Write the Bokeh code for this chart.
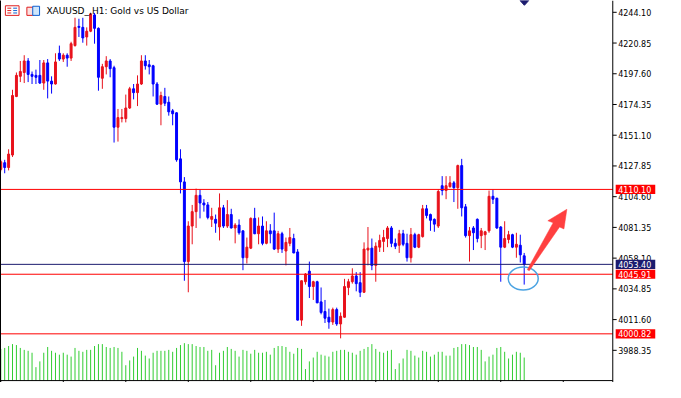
from bokeh.plotting import figure
from bokeh.models import Range1d, LinearAxis, FixedTicker, Label, ColumnDataSource
from bokeh.core.properties import value
from bokeh.embed import file_html
from bokeh.resources import INLINE

# ---------------- data (XAUUSD_, H1) ----------------
opens = [4125.22, 4130.30, 4126.67, 4136.11, 4180.41, 4195.66, 4198.56, 4207.28, 4197.11, 4196.39,
         4196.39, 4190.58, 4205.83, 4192.03, 4189.85, 4213.09, 4208.73, 4211.64, 4209.46, 4218.90,
         4233.42, 4232.70, 4225.43, 4229.79, 4242.14, 4231.97, 4194.21, 4202.92, 4207.28, 4202.20,
         4157.17, 4163.71, 4163.71, 4171.70, 4186.22, 4183.31, 4189.85, 4207.28, 4204.37, 4203.65,
         4189.85, 4174.60, 4180.41, 4176.05, 4169.52, 4168.06, 4133.21, 4115.78, 4055.50, 4082.37,
         4093.27, 4105.61, 4099.80, 4098.35, 4087.46, 4087.46, 4081.65, 4096.17, 4082.37, 4091.09,
         4080.92, 4083.10, 4078.74, 4058.41, 4065.67, 4088.18, 4076.56, 4082.37, 4069.30, 4078.74,
         4078.74, 4064.94, 4076.56, 4063.49, 4069.30, 4072.93, 4062.77, 4011.21, 4040.25, 4048.24,
         4036.62, 4040.25, 4025.00, 4017.74, 4013.38, 4009.75, 4019.19, 4008.30, 4013.38, 4035.90,
         4040.25, 4044.61, 4039.53, 4032.27, 4064.22, 4065.67, 4052.60, 4066.40, 4070.75, 4072.93,
         4080.92, 4069.30, 4067.85, 4076.56, 4069.30, 4058.41, 4075.84, 4066.40, 4074.38, 4095.44,
         4091.09, 4087.46, 4082.37, 4112.87, 4109.24, 4112.15, 4115.05, 4111.42, 4128.12, 4096.90,
         4075.11, 4080.92, 4087.46, 4075.11, 4075.84, 4078.74, 4104.89, 4103.43, 4081.65, 4066.40,
         4072.21, 4075.84, 4066.40, 4067.85, 4059.86]
highs = [4132.48, 4132.48, 4140.47, 4185.49, 4198.56, 4207.28, 4211.64, 4209.46, 4199.29, 4200.74,
         4208.01, 4208.01, 4208.73, 4195.66, 4213.09, 4218.90, 4213.09, 4213.09, 4221.80, 4239.96,
         4239.23, 4239.96, 4232.70, 4243.59, 4243.59, 4232.70, 4205.10, 4210.91, 4208.73, 4203.65,
         4170.97, 4170.97, 4181.86, 4187.67, 4189.85, 4196.39, 4211.64, 4211.64, 4208.01, 4204.37,
         4191.30, 4184.04, 4186.95, 4180.41, 4170.97, 4168.50, 4140.47, 4119.41, 4086.00, 4098.35,
         4110.69, 4109.97, 4102.71, 4100.53, 4096.17, 4091.09, 4107.06, 4098.35, 4101.98, 4095.44,
         4084.55, 4087.46, 4079.00, 4073.66, 4088.91, 4096.17, 4088.91, 4089.63, 4086.00, 4083.83,
         4092.54, 4078.74, 4078.02, 4073.66, 4080.92, 4076.56, 4064.94, 4041.20, 4046.80, 4055.50,
         4040.98, 4040.98, 4035.90, 4026.46, 4019.92, 4020.65, 4020.65, 4017.01, 4042.43, 4042.43,
         4050.42, 4047.52, 4047.52, 4070.03, 4081.65, 4072.93, 4070.03, 4075.84, 4079.47, 4082.37,
         4082.37, 4072.93, 4079.47, 4079.47, 4076.56, 4080.92, 4077.29, 4076.56, 4098.35, 4098.35,
         4091.81, 4088.18, 4109.97, 4120.14, 4120.14, 4120.14, 4116.50, 4128.85, 4133.21, 4099.08,
         4081.65, 4082.37, 4088.18, 4080.92, 4078.74, 4109.24, 4109.97, 4103.80, 4082.37, 4086.00,
         4078.74, 4076.56, 4077.29, 4075.84, 4062.04]
lows = [4123.77, 4122.31, 4124.49, 4134.66, 4179.90, 4191.30, 4190.58, 4191.30, 4189.85, 4189.85,
        4189.85, 4185.49, 4178.96, 4182.59, 4189.40, 4207.28, 4206.55, 4202.92, 4207.28, 4218.17,
        4225.43, 4221.08, 4218.90, 4229.07, 4220.35, 4184.77, 4186.22, 4197.11, 4194.93, 4145.55,
        4146.28, 4160.80, 4160.80, 4170.97, 4178.23, 4173.15, 4189.12, 4200.74, 4197.11, 4180.41,
        4174.00, 4158.62, 4173.15, 4165.89, 4158.62, 4131.03, 4107.06, 4040.98, 4032.27, 4068.58,
        4080.92, 4088.18, 4093.27, 4087.46, 4081.65, 4077.29, 4071.48, 4080.92, 4080.92, 4080.50,
        4069.30, 4075.84, 4048.97, 4054.05, 4064.94, 4076.20, 4068.58, 4067.85, 4068.58, 4069.30,
        4064.22, 4062.04, 4062.04, 4052.60, 4067.12, 4061.80, 4010.90, 4006.85, 4038.07, 4027.91,
        4026.46, 4024.00, 4015.56, 4009.03, 4004.67, 4007.57, 4006.85, 3997.41, 4013.00, 4030.09,
        4038.80, 4032.99, 4028.63, 4031.90, 4052.60, 4048.97, 4040.25, 4062.77, 4062.77, 4066.40,
        4066.40, 4064.94, 4062.04, 4067.12, 4055.50, 4054.78, 4065.67, 4065.67, 4073.66, 4088.18,
        4078.74, 4078.02, 4080.92, 4105.61, 4102.71, 4111.42, 4100.53, 4095.44, 4089.63, 4073.66,
        4055.50, 4064.22, 4070.03, 4065.67, 4064.22, 4077.29, 4099.08, 4080.19, 4040.25, 4065.67,
        4069.30, 4065.67, 4058.41, 4054.78, 4038.07]
closes = [4131.03, 4126.67, 4136.84, 4181.14, 4196.39, 4199.29, 4207.28, 4197.11, 4195.66, 4194.93,
          4190.58, 4205.83, 4192.03, 4189.85, 4206.55, 4208.73, 4211.64, 4209.46, 4220.35, 4232.70,
          4232.70, 4224.71, 4229.79, 4242.86, 4231.97, 4194.93, 4202.92, 4207.28, 4201.47, 4157.17,
          4164.43, 4164.43, 4171.70, 4186.22, 4183.31, 4189.85, 4207.28, 4203.65, 4202.92, 4189.85,
          4174.60, 4181.14, 4175.33, 4168.79, 4167.34, 4132.48, 4115.78, 4055.50, 4082.37, 4093.27,
          4105.61, 4099.80, 4098.35, 4088.91, 4089.63, 4084.55, 4096.17, 4082.37, 4091.09, 4080.92,
          4083.10, 4077.29, 4058.41, 4066.40, 4088.18, 4076.56, 4082.37, 4069.30, 4078.74, 4076.56,
          4064.94, 4076.56, 4064.94, 4070.03, 4073.66, 4062.04, 4011.21, 4040.98, 4046.06, 4036.62,
          4040.25, 4024.28, 4017.01, 4012.66, 4009.75, 4019.19, 4008.30, 4014.11, 4036.62, 4040.25,
          4044.61, 4038.80, 4032.27, 4064.94, 4065.67, 4052.60, 4067.12, 4071.48, 4073.66, 4080.92,
          4069.30, 4067.12, 4076.56, 4068.58, 4058.41, 4075.84, 4066.40, 4075.84, 4095.44, 4090.36,
          4086.73, 4083.83, 4108.52, 4109.24, 4112.87, 4115.05, 4111.42, 4128.12, 4096.17, 4075.11,
          4078.74, 4077.29, 4072.93, 4078.74, 4078.02, 4104.89, 4102.71, 4080.92, 4066.40, 4072.93,
          4075.84, 4066.40, 4068.58, 4060.59, 4053.40]
volumes = [16500, 17000, 18000, 19000, 18500, 17000, 16000, 15500, 14500, 7000,
           10000, 14500, 17500, 15500, 14500, 13500, 14500, 13500, 12500, 17000,
           15500, 15000, 16000, 16000, 18000, 19000, 19000, 17500, 17000, 17500,
           17000, 15000, 8000, 10500, 12500, 17000, 15500, 13000, 11500, 14500,
           15500, 15500, 15500, 16000, 15000, 17000, 18500, 19500, 19000, 19000,
           18000, 17500, 17500, 15500, 16000, 8000, 14500, 15500, 17500, 16500,
           15500, 12500, 16000, 15500, 14000, 16000, 14500, 14500, 15000, 13500,
           17000, 18000, 18000, 17500, 15000, 14000, 17000, 16500, 6000, 10000,
           12000, 15000, 13500, 13000, 12500, 15000, 15500, 16000, 16000, 15000,
           14500, 13500, 15500, 16500, 17500, 19000, 16500, 15000, 14500, 15500,
           16000, 6000, 9000, 11500, 16000, 15500, 13000, 12000, 15500, 15000,
           12500, 13500, 15000, 15000, 13000, 13000, 17000, 17500, 19000, 19000,
           18500, 17500, 17500, 16000, 10000, 12500, 13500, 17000, 17500, 15000,
           11500, 13500, 15000, 14500, 12000]

price_ticks = [4244.10, 4220.85, 4197.60, 4174.35, 4151.10, 4127.85, 4104.60,
               4081.35, 4058.10, 4034.85, 4011.60, 3988.35]
time_ticks = [0, 16, 32, 48, 64, 80, 96, 112, 128, 144]
red_levels = [4110.10, 4045.91, 4000.82]
bid_level = 4053.40
title_text = "XAUUSD_,H1:  Gold vs US Dollar"

# ---------------- view settings (reference-pixel helpers) ----------------
X0 = -0.075
X1 = X0 + 681 / 4.0                # window's right edge
Y_TOP = 4253.03
PX_Y = 0.7262                      # price units per reference pixel
Y_BOT = Y_TOP - 398 * PX_Y         # window's bottom edge
BASE = Y_TOP - 396 * PX_Y          # time-axis line / volume baseline
VOL_RANGE = (-1000, 198000)


def px2x(px):
    return X0 + px / 4.0


def px2y(py):
    return Y_TOP - py * PX_Y


SCALE_X = px2x(627)                # price-scale line
BULL = "#e8121c"
BEAR = "#0000ff"
RED = "#ff0000"
NAVY = "#1b1b6e"
FONT = "DejaVu Sans"

n = len(opens)
idx = list(range(n))
colors = [BULL if c >= o else BEAR for o, c in zip(opens, closes)]
src = ColumnDataSource(dict(
    x=idx, o=opens, h=highs, l=lows, c=closes,
    top=[max(o, c) for o, c in zip(opens, closes)],
    bot=[min(o, c) for o, c in zip(opens, closes)],
    color=colors, vol=volumes, zero=[0] * n))

p = figure(width=665, height=382, x_range=Range1d(X0, X1), y_range=Range1d(Y_BOT, Y_TOP),
           y_axis_location=None, x_axis_location=None,
           output_backend="svg", toolbar_location=None,
           min_border_left=0, min_border_top=0, min_border_bottom=0, min_border_right=0)
p.xgrid.visible = False
p.ygrid.visible = False
p.outline_line_color = None
p.background_fill_color = "white"
p.border_fill_color = "white"
p.extra_y_ranges = {"vol": Range1d(*VOL_RANGE)}

# left border (axis line only, no ticks)
la = LinearAxis(ticker=FixedTicker(ticks=[]), major_tick_line_color=None,
                minor_tick_line_color=None, major_tick_out=0, axis_line_color="black")
p.add_layout(la, "left")

# volumes
p.segment(x0="x", y0="zero", x1="x", y1="vol", source=src, line_color="#32cd32",
          line_width=1, y_range_name="vol")

# candles
p.segment(x0="x", y0="l", x1="x", y1="h", source=src, line_color="color", line_width=1)
p.vbar(x="x", width=0.5, top="top", bottom="bot", source=src,
       fill_color="color", line_color="color", line_width=1)

# horizontal levels (up to the price scale)
p.segment(x0=[X0] * len(red_levels), x1=[SCALE_X] * len(red_levels),
          y0=red_levels, y1=red_levels, line_color=RED, line_width=1)
p.segment(x0=[X0], x1=[SCALE_X], y0=[bid_level], y1=[bid_level], line_color=NAVY, line_width=1)

# time axis line and its tick marks (labels fall outside the window in the original)
p.segment(x0=[X0], x1=[SCALE_X], y0=[BASE], y1=[BASE], line_color="black", line_width=1)
p.segment(x0=time_ticks, y0=[BASE] * len(time_ticks), x1=time_ticks,
          y1=[Y_BOT] * len(time_ticks), line_color="black", line_width=1)

# ellipse & arrow annotations
p.ellipse(x=px2x(535.3), y=px2y(289.7), width=30.7 / 4.0, height=24 * PX_Y,
          fill_color=None, line_color="#4aa3e2", line_width=1.5)
arrow_px = [(539.5, 280.5), (541.5, 281.5), (572.5, 236.0), (577.0, 238.0),
            (580.0, 217.5), (560.5, 229.5), (566.0, 231.5)]
p.patch(x=[px2x(a) for a, b in arrow_px], y=[px2y(b) for a, b in arrow_px],
        fill_color="#ff4040", line_color="#ff4040", line_width=0.5)

# chart-shift marker at the top
tri_px = [(532, 0), (541, 0), (536.5, 5)]
p.patch(x=[px2x(a) for a, b in tri_px], y=[px2y(b) for a, b in tri_px],
        fill_color=NAVY, line_color=NAVY)

# header icons
p.quad(left=[px2x(5)], right=[px2x(19)], top=[px2y(5.5)], bottom=[px2y(15.5)],
       fill_color="white", line_color="#e02020", line_width=1)
for yy in (8, 10.5, 13):
    p.segment(x0=[px2x(7)], y0=[px2y(yy)], x1=[px2x(11)], y1=[px2y(yy)], line_color="#e02020", line_width=1)
    p.segment(x0=[px2x(13)], y0=[px2y(yy)], x1=[px2x(17)], y1=[px2y(yy)], line_color="#1060d0", line_width=1)
p.quad(left=[px2x(27)], right=[px2x(34)], top=[px2y(7)], bottom=[px2y(15.5)],
       fill_color="#fbe0e0", line_color="#e02020", line_width=1)
p.quad(left=[px2x(33)], right=[px2x(40)], top=[px2y(6)], bottom=[px2y(15.5)],
       fill_color="#cfe6fb", line_color="#1060d0", line_width=1)

p.add_layout(Label(x=px2x(47), y=px2y(10.5), text=title_text, text_font=FONT,
                   text_font_size="9px", text_color="black", text_baseline="middle",
                   text_align="left"))

# ---------------- price scale on the right ----------------
p.segment(x0=[SCALE_X], x1=[SCALE_X], y0=[Y_BOT], y1=[Y_TOP], line_color="black", line_width=1)
p.segment(x0=[SCALE_X] * len(price_ticks), x1=[px2x(631)] * len(price_ticks),
          y0=price_ticks, y1=price_ticks, line_color="black", line_width=1)
p.text(x=[px2x(632.5)] * len(price_ticks), y=price_ticks,
       text=["%.2f" % t for t in price_ticks], text_font=value(FONT),
       text_font_size="8px", text_color="black", text_baseline="middle", text_align="left")

# price boxes
box_levels = red_levels + [bid_level]
box_colors = [RED] * len(red_levels) + [NAVY]
half = 4.8 * PX_Y
p.quad(left=[px2x(630)] * len(box_levels), right=[px2x(670.5)] * len(box_levels),
       top=[lv + half for lv in box_levels], bottom=[lv - half for lv in box_levels],
       fill_color=box_colors, line_color=None)
p.text(x=[px2x(632.5)] * len(box_levels), y=box_levels,
       text=["%.2f" % lv for lv in box_levels], text_font=value(FONT),
       text_font_size="8px", text_color="white", text_baseline="middle", text_align="left")

open("out.html", "w").write(file_html(p, INLINE))
